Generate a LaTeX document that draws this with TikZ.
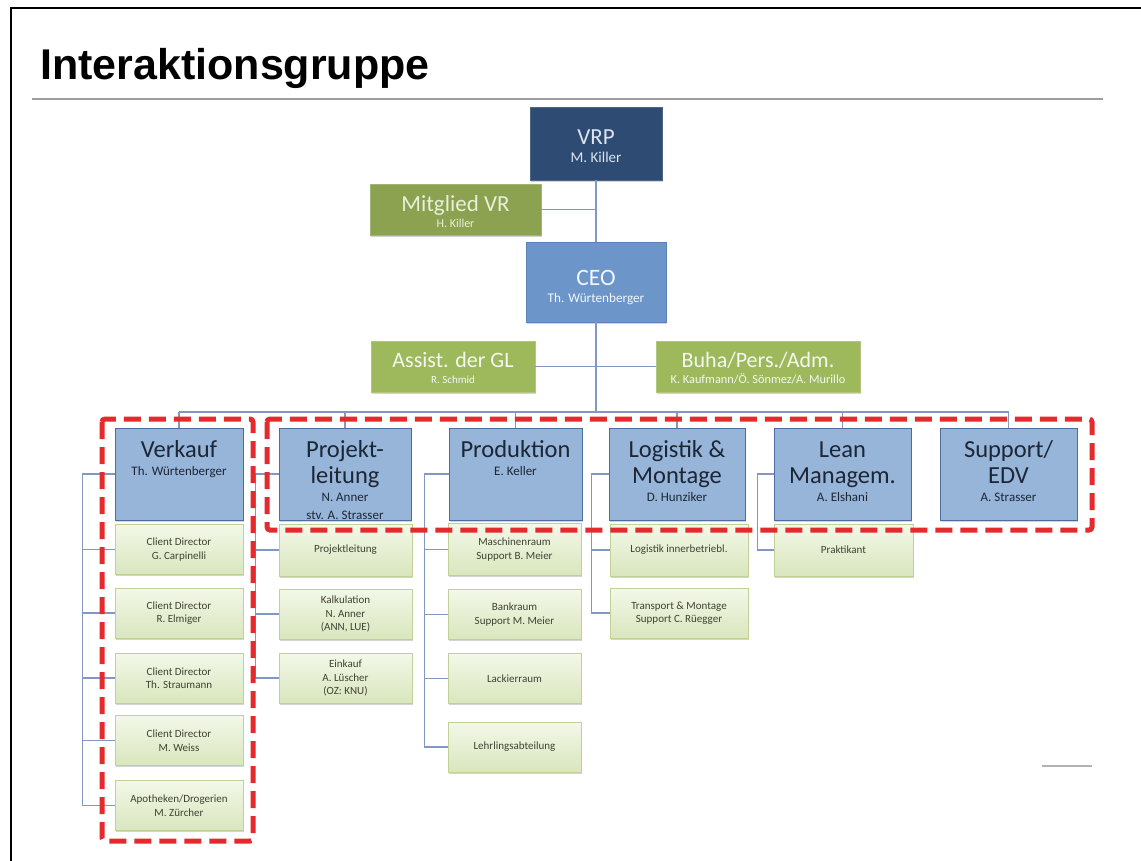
\documentclass[tikz,border=0pt]{standalone}
\usepackage{fontspec}
\setmainfont{Carlito}
\newfontfamily\headfont{Liberation Sans}
\usetikzlibrary{shadows}

\definecolor{vrpfill}{HTML}{2E4B73}
\definecolor{vrptext}{HTML}{DCE4F0}
\definecolor{boardfill}{HTML}{8CA251}
\definecolor{boardtext}{HTML}{EAF0D8}
\definecolor{ceofill}{HTML}{6C96CA}
\definecolor{ceoline}{HTML}{5A84B8}
\definecolor{stafffill}{HTML}{9DB95C}
\definecolor{deptfill}{HTML}{97B4D9}
\definecolor{deptline}{HTML}{4C6D9E}
\definecolor{depttext}{HTML}{1C2736}
\definecolor{subtop}{HTML}{F3F8E8}
\definecolor{subbot}{HTML}{D9E6BD}
\definecolor{subline}{HTML}{BFD196}
\definecolor{subtext}{HTML}{3F4233}
\definecolor{connline}{HTML}{8298C2}
\definecolor{markred}{HTML}{E42A2C}

% department box text: large title at the top, names below
\newcommand\deptcontent[3]{\parbox[c][92pt][t]{#1}{\centering
  \fontsize{24.5}{26}\selectfont\rule{0pt}{29pt}#2\par
  \fontsize{13}{18}\selectfont #3\par}}
% management box text: height, width, first baseline, title size, title,
% name size, name baseline gap, name
\newcommand\stacked[8]{\parbox[c][#1][t]{#2}{\centering
  \fontsize{#4}{#4}\selectfont\rule{0pt}{#3}#5\par
  \fontsize{#6}{#7}\selectfont #8\par}}

\begin{document}
\begin{tikzpicture}[x=1pt,y=-1pt,
  softshadow/.style={drop shadow={shadow xshift=0.8pt,shadow yshift=-1.6pt,opacity=0.28,fill=black!60}},
  topbox/.style={rectangle,inner sep=0pt,line width=0.8pt,softshadow},
  dept/.style={rectangle,draw=deptline,fill=deptfill,line width=1pt,inner sep=0pt,
    minimum height=92pt,text=depttext,softshadow},
  sub/.style={rectangle,draw=subline,top color=subtop,bottom color=subbot,line width=0.8pt,
    inner sep=2pt,minimum height=50pt,align=center,text=subtext,
    font=\fontsize{11}{13.5}\selectfont,softshadow},
  conn/.style={draw=connline,line width=1.2pt},
  marker/.style={draw=markred,line width=5pt,dash pattern=on 17pt off 8pt,rounded corners=3pt}
]
\useasboundingbox (0,0) rectangle (1141,861);
\fill[white] (0,0) rectangle (1141,861);

% page frame and heading
\draw[line width=2.2pt] (11,861) -- (11,8) -- (1141,8);
\node[anchor=base west,inner sep=0pt,font=\headfont\bfseries\fontsize{43}{48}\selectfont] (title) at (40,80) {Interaktionsgruppe};
\draw[black!38,line width=1.2pt] (32,99) -- (1103,99);
\draw[black!30,line width=1.5pt] (1042,766) -- (1092,766);

% board and management
\node[topbox,fill=vrpfill,draw=vrpfill!85!white,text=vrptext] (vrp) at (596,143.5)
  {\stacked{73pt}{132pt}{38pt}{23}{VRP}{15}{18}{M. Killer}};
\node[topbox,fill=boardfill,draw=boardfill!80!white,text=boardtext] (mit) at (455.5,209.5)
  {\stacked{51pt}{171pt}{28pt}{23}{Mitglied VR}{12}{16}{H. Killer}};
\node[topbox,fill=ceofill,draw=ceoline,text=white!92!ceofill] (ceo) at (596,282)
  {\stacked{80pt}{140pt}{43pt}{23.5}{CEO}{13.2}{17}{Th. Würtenberger}};
\node[topbox,fill=stafffill,draw=stafffill!80!white,text=white!90!stafffill] (assist) at (453,366.5)
  {\stacked{51pt}{164pt}{26pt}{22}{Assist. der GL}{11}{16}{R. Schmid}};
\node[topbox,fill=stafffill,draw=stafffill!80!white,text=white!90!stafffill] (buha) at (758,366.5)
  {\stacked{51pt}{204pt}{26pt}{22}{Buha/Pers./Adm.}{12.3}{16}{K. Kaufmann/Ö. Sönmez/A. Murillo}};

% departments
\node[dept,minimum width=128pt] (verkauf) at (179,474) {\deptcontent{126pt}{Verkauf}{Th. Würtenberger}};
\node[dept,minimum width=132pt] (projekt) at (345,474) {\deptcontent{130pt}{Projekt-\\leitung}{N. Anner\\stv. A. Strasser}};
\node[dept,minimum width=133pt] (prod) at (515.5,474) {\deptcontent{131pt}{Produktion}{E. Keller}};
\node[dept,minimum width=136pt] (logi) at (677,474) {\deptcontent{134pt}{Logistik \&\\Montage}{D. Hunziker}};
\node[dept,minimum width=137pt] (lean) at (842.5,474) {\deptcontent{135pt}{Lean\\Managem.}{A. Elshani}};
\node[dept,minimum width=137pt] (support) at (1008.5,474) {\deptcontent{135pt}{Support/\\EDV}{A. Strasser}};

% Verkauf units
\node[sub,minimum width=128pt] (v1) at (179,549.5) {Client Director\\G. Carpinelli};
\node[sub,minimum width=128pt] (v2) at (179,613) {Client Director\\R. Elmiger};
\node[sub,minimum width=128pt] (v3) at (179,678) {Client Director\\Th. Straumann};
\node[sub,minimum width=128pt] (v4) at (179,740.5) {Client Director\\M. Weiss};
\node[sub,minimum width=128pt] (v5) at (179,805.5) {Apotheken/Drogerien\\M. Zürcher};

% Projektleitung units
\node[sub,minimum width=133pt,minimum height=52pt] (p1) at (345.5,550) {Projektleitung};
\node[sub,minimum width=133pt] (p2) at (345.5,614) {Kalkulation\\N. Anner\\(ANN, LUE)};
\node[sub,minimum width=133pt] (p3) at (345.5,678) {Einkauf\\A. Lüscher\\(OZ: KNU)};

% Produktion units
\node[sub,minimum width=133pt,minimum height=52pt] (m1) at (514.5,549.5) {Maschinenraum\\Support B. Meier};
\node[sub,minimum width=133pt] (m2) at (514.5,614.5) {Bankraum\\Support M. Meier};
\node[sub,minimum width=133pt] (m3) at (514.5,678.5) {Lackierraum};
\node[sub,minimum width=133pt] (m4) at (514.5,747) {Lehrlingsabteilung};

% Logistik units
\node[sub,minimum width=138pt,minimum height=52pt] (l1) at (679,550) {Logistik innerbetriebl.};
\node[sub,minimum width=138pt] (l2) at (679,613) {Transport \& Montage\\Support C. Rüegger};

% Lean units
\node[sub,minimum width=139pt,minimum height=52pt] (k1) at (843.5,550) {Praktikant};

% reporting lines at the top
\draw[conn] (vrp.south) -- (ceo.north);
\coordinate (mitjoin) at (vrp.south |- mit.east);
\draw[conn] (mit.east) -- (mitjoin);
\coordinate (bus) at (596,412);
\draw[conn] (ceo.south) -- (bus);
\draw[conn] (assist.east) -- (buha.west);
\draw[conn] (verkauf.north |- bus) -- (support.north |- bus);
\foreach \d in {verkauf,projekt,prod,logi,lean,support}
  \draw[conn] (\d.north |- bus) -- (\d.north);

% unit trunks
\coordinate (vtrunk) at ([xshift=-32pt]verkauf.west);
\draw[conn] (verkauf.west) -- (vtrunk) |- (v5.west);
\foreach \s in {v1,v2,v3,v4} \draw[conn] (\s.west) -- (\s.west -| vtrunk);

\coordinate (ptrunk) at ([xshift=-23pt]projekt.west);
\draw[conn] (projekt.west) -- (ptrunk) |- (p3.west);
\foreach \s in {p1,p2} \draw[conn] (\s.west) -- (\s.west -| ptrunk);

\coordinate (mtrunk) at ([xshift=-24pt]prod.west);
\draw[conn] (prod.west) -- (mtrunk) |- (m4.west);
\foreach \s in {m1,m2,m3} \draw[conn] (\s.west) -- (\s.west -| mtrunk);

\coordinate (ltrunk) at ([xshift=-17pt]logi.west);
\draw[conn] (logi.west) -- (ltrunk) |- (l2.west);
\draw[conn] (l1.west) -- (l1.west -| ltrunk);

\coordinate (ktrunk) at ([xshift=-16pt]lean.west);
\draw[conn] (lean.west) -- (ktrunk) |- (k1.west);

% highlighted groups
\draw[marker] (102,419) rectangle (253,841);
\draw[marker] (267,419) rectangle (1092,530);
\end{tikzpicture}
\end{document}
